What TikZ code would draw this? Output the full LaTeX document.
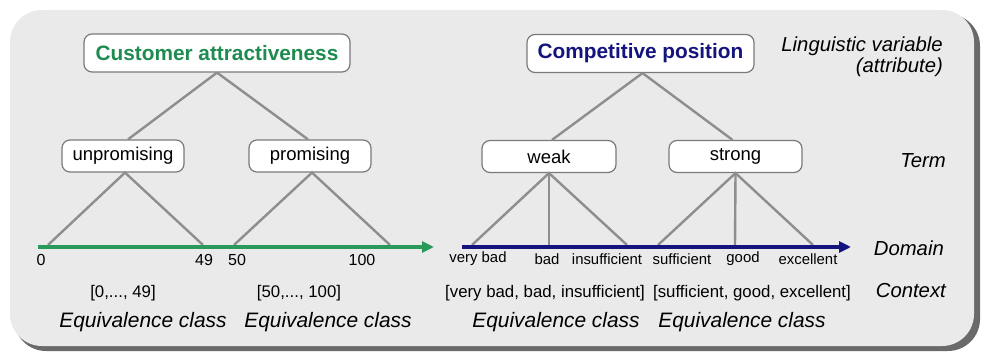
\documentclass[tikz,border=0pt]{standalone}
\usepackage{fontspec}
\setmainfont{Liberation Sans}
\usetikzlibrary{arrows.meta}
\definecolor{panelgray}{HTML}{EAEAEA}
\definecolor{shadowgray}{HTML}{6A6A6A}
\definecolor{linkgray}{HTML}{8E8E8E}
\definecolor{boxgray}{HTML}{7A7A7A}
\definecolor{attrgreen}{HTML}{1E8C50}
\definecolor{axisgreen}{HTML}{2A9A5C}
\definecolor{navy}{HTML}{14147E}
\newcommand{\fsz}[1]{\fontsize{#1}{#1}\selectfont}
\tikzset{
  attrbox/.style={draw=boxgray, line width=1.2pt, fill=white, rounded corners=8pt,
    minimum height=38pt, inner xsep=0pt, font=\fsz{20.8}\bfseries},
  termbox/.style={draw=boxgray, line width=1.2pt, fill=white, rounded corners=8pt,
    minimum height=32pt, inner sep=0pt, font=\fsz{18.5}},
  link/.style={draw=linkgray, line width=2.4pt},
  axis/.style={line width=4pt, -{Triangle[length=12pt,width=11pt]}},
  tick/.style={font=\fsz{16}, inner sep=0pt},
  vallabel/.style={font=\fsz{14.9}, inner sep=0pt},
  ctx/.style={font=\fsz{16.8}, inner sep=0pt},
  eqclass/.style={font=\fsz{20.9}\itshape, inner sep=0pt},
  side/.style={font=\fsz{20.3}\itshape, inner sep=0pt, anchor=base east}
}
\begin{document}
\begin{tikzpicture}[x=1pt, y=-1pt]
\useasboundingbox (0,0) rectangle (984,352);

% panel with drop shadow
\fill[shadowgray, rounded corners=32pt] (14,14) rectangle (980,351);
\fill[panelgray, rounded corners=32pt] (10,10) rectangle (974,346);

% linguistic variables
\node[attrbox, text=attrgreen, minimum width=266pt] (cust) at (217,53) {Customer attractiveness};
\node[attrbox, text=navy, minimum width=227pt] (comp) at (640.5,53.5) {Competitive position};

% terms
\node[termbox, minimum width=122pt] (unp) at (123,156) {unpromising};
\node[termbox, minimum width=122pt] (pro) at (310,156) {promising};
\node[termbox, minimum width=134pt] (weak) at (549,156.5) {weak};
\node[termbox, minimum width=133pt] (strong) at (735.5,156.5) {strong};

% domain points
\coordinate (g0) at (48,245);
\coordinate (g49) at (203,245);
\coordinate (g50) at (234,245);
\coordinate (g100) at (390,245);
\coordinate (vb) at (472,245);
\coordinate (bd) at (549,245);
\coordinate (ins) at (627,245);
\coordinate (suf) at (658,245);
\coordinate (gd) at (735,245);
\coordinate (exc) at (813,245);

% axis ends
\coordinate (gstart) at (38,247);
\coordinate (gend) at (434,247);
\coordinate (bstart) at (462,247);
\coordinate (bend) at (851,247);

% tree links
\draw[link] (cust.south) -- ([xshift=5pt]unp.north);
\draw[link] (cust.south) -- ([xshift=-2pt]pro.north);
\draw[link] ([xshift=2pt]comp.south) -- ([xshift=3pt]weak.north);
\draw[link] ([xshift=2pt]comp.south) -- ([xshift=-3pt]strong.north);

\draw[link] (g0) -- ([xshift=2pt]unp.south) -- (g49);
\draw[link] (g50) -- ([xshift=2pt]pro.south) -- (g100);
\draw[link] (vb) -- (weak.south) -- (ins);
\draw[link] (weak.south) -- (bd);
\draw[link] (suf) -- (strong.south) -- (exc);
\draw[link] (strong.south) -- (gd);

% domains
\draw[axis, axisgreen] (gstart) -- (gend);
\draw[axis, navy] (bstart) -- (bend);

% domain values
\node[tick] (t0) at (41,260) {0};
\node[tick] (t49) at (204,260) {49};
\node[tick] (t50) at (237,260) {50};
\node[tick] (t100) at (362,260) {100};
\node[vallabel] (lvb) at (478,259) {very bad};
\node[vallabel] (lbd) at (547,259) {bad};
\node[vallabel] (lins) at (607,259) {insufficient};
\node[vallabel] (lsuf) at (682,259) {sufficient};
\node[vallabel] (lgd) at (743,259) {good};
\node[vallabel] (lexc) at (808,259) {excellent};

% contexts
\node[ctx] (c1) at (123,293) {[0,..., 49]};
\node[ctx] (c2) at (299,293) {[50,..., 100]};
\node[ctx] (c3) at (545,293) {[very bad, bad, insufficient]};
\node[ctx] (c4) at (752,293) {[sufficient, good, excellent]};

% equivalence classes
\node[eqclass] (e1) at (143,322) {Equivalence class};
\node[eqclass] (e2) at (328,322) {Equivalence class};
\node[eqclass] (e3) at (556,322) {Equivalence class};
\node[eqclass] (e4) at (742,322) {Equivalence class};

% level captions
\node[side] (lv) at (943,52) {Linguistic variable};
\node[side] (attr) at (943,73) {(attribute)};
\node[side] (term) at (946,168) {Term};
\node[side] (dom) at (944,256) {Domain};
\node[side] (ctxl) at (946,298) {Context};
\end{tikzpicture}
\end{document}
